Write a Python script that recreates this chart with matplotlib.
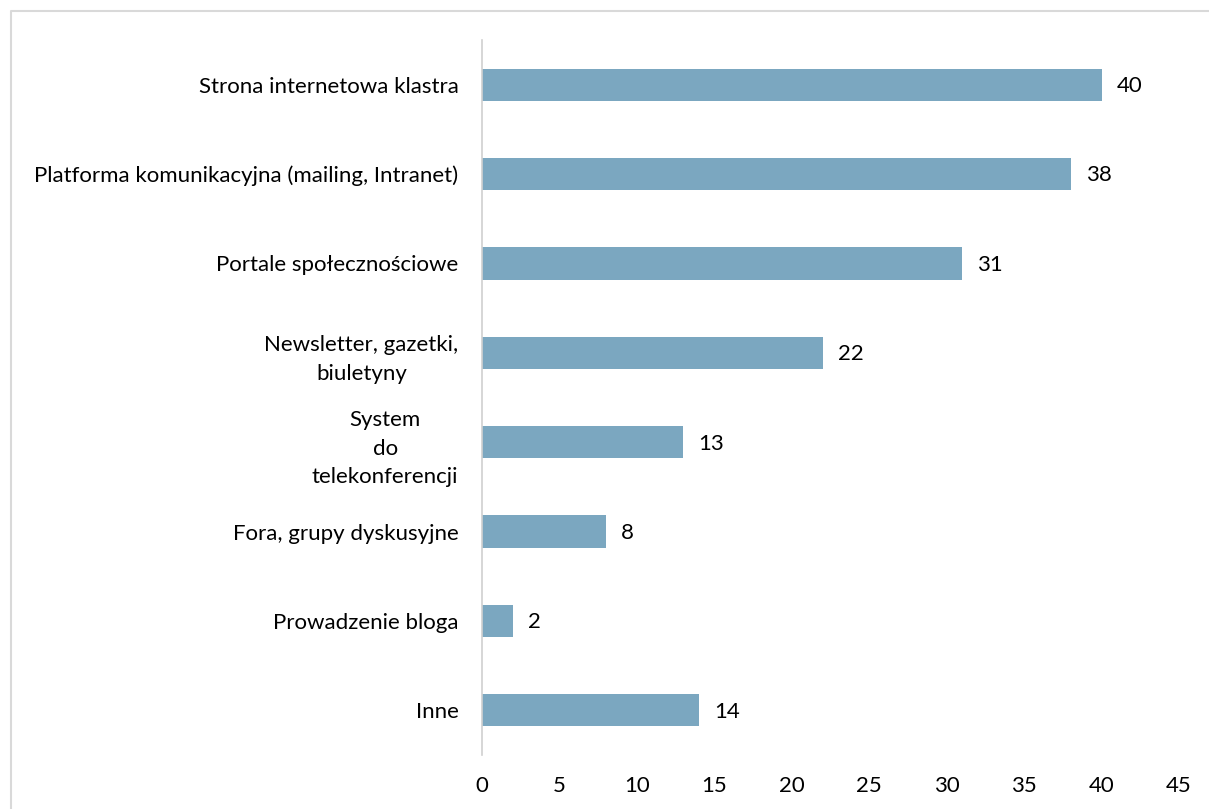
import matplotlib.pyplot as plt
from matplotlib.lines import Line2D

categories = [
    "Strona internetowa klastra",
    "Platforma komunikacyjna (mailing, Intranet)",
    "Portale społecznościowe",
    "Newsletter, gazetki,\nbiuletyny",
    "System\ndo\ntelekonferencji",
    "Fora, grupy dyskusyjne",
    "Prowadzenie bloga",
    "Inne",
]
values = [40, 38, 31, 22, 13, 8, 2, 14]
xticks = [0, 5, 10, 15, 20, 25, 30, 35, 40, 45]

W, H = 1209, 809
FS = 16
plt.rcParams["font.family"] = ["Lato", "DejaVu Sans"]

fig = plt.figure(figsize=(W / 100, H / 100), dpi=100)
ax = fig.add_axes([482 / W, 1 - 755 / H, (1179 - 482) / W, (755 - 40) / H])

ypos = list(range(len(categories)))
ax.barh(ypos, values, height=0.36, color="#7BA7C0")

for y, v in zip(ypos, values):
    ax.annotate(str(v), (v, y), xytext=(11, -1), textcoords="offset points",
                ha="left", va="center", fontsize=FS, color="#000000")

ax.set_xlim(0, 45)
ax.set_ylim(len(categories) - 0.5, -0.5)
ax.set_xticks(xticks)
ax.set_xticklabels([str(t) for t in xticks], fontsize=FS)
ax.set_yticks(ypos)
ax.set_yticklabels(categories, fontsize=FS, multialignment="center",
                   linespacing=1.55)
ax.tick_params(axis="both", length=0)
ax.tick_params(axis="y", pad=17)
ax.tick_params(axis="x", pad=15)

for side in ["top", "right", "bottom"]:
    ax.spines[side].set_visible(False)
ax.spines["left"].set_color("#D0D0D0")
ax.spines["left"].set_linewidth(1.2)

# light frame around the chart area (top and left edges)
fig.add_artist(Line2D([11 / W, 11 / W, 1.0], [0.0, 1 - 11 / H, 1 - 11 / H],
                      transform=fig.transFigure, color="#D9D9D9", linewidth=1.5))

fig.savefig("out.png", dpi=100)
